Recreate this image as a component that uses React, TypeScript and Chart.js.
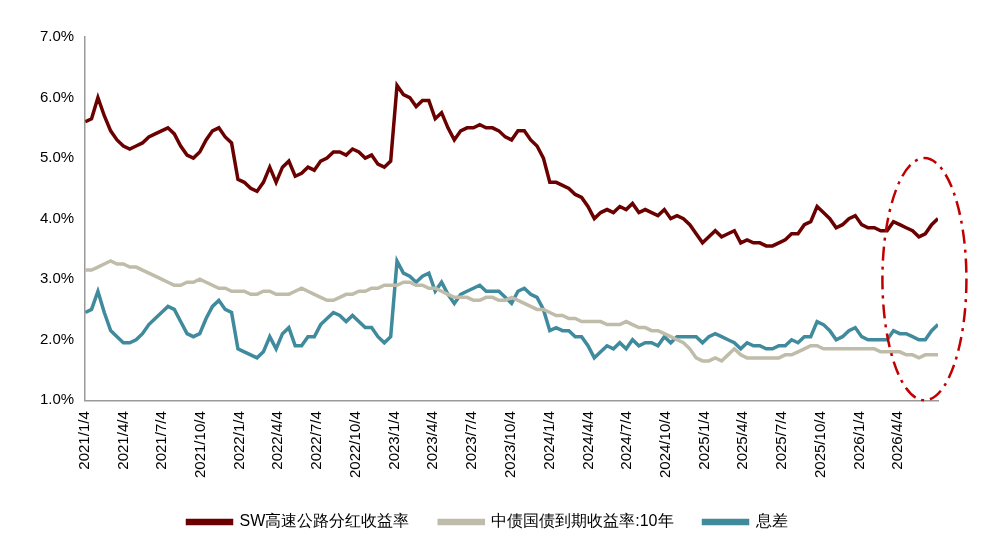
import React, { useEffect, useRef } from "react";
import { Chart, registerables } from "chart.js";
Chart.register(...registerables);

const START = Date.UTC(2021, 0, 4);
const STEP_DAYS = 15;
const tickLabels = [
  "2021/1/4","2021/4/4","2021/7/4","2021/10/4","2022/1/4","2022/4/4","2022/7/4","2022/10/4",
  "2023/1/4","2023/4/4","2023/7/4","2023/10/4","2024/1/4","2024/4/4","2024/7/4","2024/10/4",
  "2025/1/4","2025/4/4","2025/7/4","2025/10/4","2026/1/4","2026/4/4",
];
const dividend = [5.6,5.65,6.0,5.7,5.45,5.3,5.2,5.15,5.2,5.25,5.35,5.4,5.45,5.5,5.4,5.2,5.05,5.0,5.1,5.3,5.45,5.5,5.35,5.25,4.65,4.6,4.5,4.45,4.6,4.85,4.6,4.85,4.95,4.7,4.75,4.85,4.8,4.95,5.0,5.1,5.1,5.05,5.15,5.1,5.0,5.05,4.9,4.85,4.95,6.2,6.05,6.0,5.85,5.95,5.95,5.65,5.75,5.5,5.3,5.45,5.5,5.5,5.55,5.5,5.5,5.45,5.35,5.3,5.45,5.45,5.3,5.2,5.0,4.6,4.6,4.55,4.5,4.4,4.35,4.2,4.0,4.1,4.15,4.1,4.2,4.15,4.25,4.1,4.15,4.1,4.05,4.15,4.0,4.05,4.0,3.9,3.75,3.6,3.7,3.8,3.7,3.75,3.8,3.6,3.65,3.6,3.6,3.55,3.55,3.6,3.65,3.75,3.75,3.9,3.95,4.2,4.1,4.0,3.85,3.9,4.0,4.05,3.9,3.85,3.85,3.8,3.8,3.95,3.9,3.85,3.8,3.7,3.75,3.9,4.0];
const bond10y = [3.15,3.15,3.2,3.25,3.3,3.25,3.25,3.2,3.2,3.15,3.1,3.05,3.0,2.95,2.9,2.9,2.95,2.95,3.0,2.95,2.9,2.85,2.85,2.8,2.8,2.8,2.75,2.75,2.8,2.8,2.75,2.75,2.75,2.8,2.85,2.8,2.75,2.7,2.65,2.65,2.7,2.75,2.75,2.8,2.8,2.85,2.85,2.9,2.9,2.9,2.95,2.95,2.9,2.9,2.85,2.85,2.8,2.75,2.7,2.7,2.7,2.65,2.65,2.7,2.7,2.65,2.65,2.7,2.65,2.6,2.55,2.5,2.5,2.45,2.4,2.4,2.35,2.35,2.3,2.3,2.3,2.3,2.25,2.25,2.25,2.3,2.25,2.2,2.2,2.15,2.15,2.1,2.05,2.0,1.95,1.85,1.7,1.65,1.65,1.7,1.65,1.75,1.85,1.75,1.7,1.7,1.7,1.7,1.7,1.7,1.75,1.75,1.8,1.85,1.9,1.9,1.85,1.85,1.85,1.85,1.85,1.85,1.85,1.85,1.85,1.8,1.8,1.8,1.8,1.75,1.75,1.7,1.75,1.75,1.75];
const spread = [2.45,2.5,2.8,2.45,2.15,2.05,1.95,1.95,2.0,2.1,2.25,2.35,2.45,2.55,2.5,2.3,2.1,2.05,2.1,2.35,2.55,2.65,2.5,2.45,1.85,1.8,1.75,1.7,1.8,2.05,1.85,2.1,2.2,1.9,1.9,2.05,2.05,2.25,2.35,2.45,2.4,2.3,2.4,2.3,2.2,2.2,2.05,1.95,2.05,3.3,3.1,3.05,2.95,3.05,3.1,2.8,2.95,2.75,2.6,2.75,2.8,2.85,2.9,2.8,2.8,2.8,2.7,2.6,2.8,2.85,2.75,2.7,2.5,2.15,2.2,2.15,2.15,2.05,2.05,1.9,1.7,1.8,1.9,1.85,1.95,1.85,2.0,1.9,1.95,1.95,1.9,2.05,1.95,2.05,2.05,2.05,2.05,1.95,2.05,2.1,2.05,2.0,1.95,1.85,1.95,1.9,1.9,1.85,1.85,1.9,1.9,2.0,1.95,2.05,2.05,2.3,2.25,2.15,2.0,2.05,2.15,2.2,2.05,2.0,2.0,2.0,2.0,2.15,2.1,2.1,2.05,2.0,2.0,2.15,2.25];

const dayOf = (s: string) => {
  const [y, m, d] = s.split("/").map(Number);
  return Math.round((Date.UTC(y, m - 1, d) - START) / 86400000);
};
const toPts = (arr: number[]) => arr.map((v, i) => ({ x: i * STEP_DAYS, y: v }));

const ellipsePlugin = {
  id: "ellipse",
  afterDraw(chart: any) {
    const { ctx, scales } = chart;
    const xs = scales.x, ys = scales.y;
    const cx = xs.getPixelForValue(1978), cy = ys.getPixelForValue(3.0);
    const rx = xs.getPixelForValue(1978 + 99) - cx;
    const ry = ys.getPixelForValue(1.0) - cy;
    ctx.save();
    ctx.strokeStyle = "#c00000";
    ctx.lineWidth = 2.5;
    ctx.setLineDash([14, 6, 3, 6]);
    ctx.beginPath();
    ctx.ellipse(cx, cy, rx, Math.abs(ry), 0, 0, Math.PI * 2);
    ctx.stroke();
    ctx.restore();
  },
};

export default function App() {
  const ref = useRef<HTMLCanvasElement>(null);
  useEffect(() => {
    document.body.style.margin = "0";
    const font = "'Liberation Sans', Arial, sans-serif";
    const mk = (label: string, data: number[], color: string) => ({
      label, data: toPts(data), borderColor: color, backgroundColor: color,
      borderWidth: 3.5, pointRadius: 0, tension: 0,
    });
    const chart = new Chart(ref.current!, {
      type: "line",
      data: {
        datasets: [
          mk("SW高速公路分红收益率", dividend, "#6b0000"),
          mk("中债国债到期收益率:10年", bond10y, "#bfbcaa"),
          mk("息差", spread, "#3f8a9c"),
        ],
      },
      options: {
        animation: false,
        responsive: false,
        layout: { padding: { top: 37, right: 49, left: 37, bottom: 10 } },
        plugins: {
          tooltip: { enabled: false },
          legend: {
            position: "bottom",
            labels: {
              font: { family: font, size: 16 }, color: "#000",
              boxWidth: 44, boxHeight: 3, padding: 30,
            },
          },
        },
        scales: {
          x: {
            type: "linear", min: 0, max: 134 * STEP_DAYS,
            afterBuildTicks: (axis: any) => {
              axis.ticks = tickLabels.map((l) => ({ value: dayOf(l) }));
            },
            ticks: {
              autoSkip: false, maxRotation: 90, minRotation: 90, padding: 6,
              font: { family: font, size: 15 }, color: "#000",
              callback: (v: any) => tickLabels.find((l) => dayOf(l) === v) ?? "",
            },
            grid: { display: false, drawTicks: true, tickLength: 5, color: "#999" } as any,
            border: { color: "#999", width: 1.5 },
          },
          y: {
            min: 1, max: 7,
            ticks: { stepSize: 1, font: { family: font, size: 15 }, color: "#000",
              callback: (v: any) => Number(v).toFixed(1) + "%" },
            grid: { display: false },
            border: { color: "#999", width: 1.5 },
          },
        },
      },
      plugins: [ellipsePlugin],
    });
    return () => chart.destroy();
  }, []);
  return <canvas ref={ref} width={987} height={550} style={{ display: "block" }} />;
}
